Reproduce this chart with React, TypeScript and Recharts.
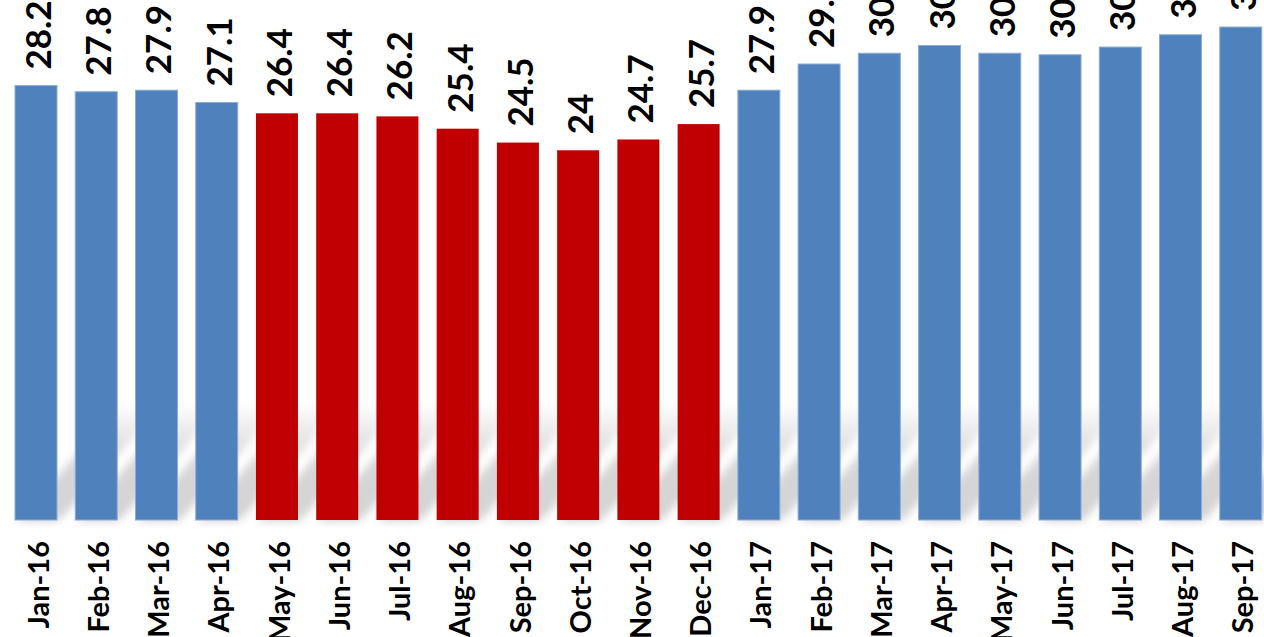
import { BarChart, Bar, XAxis, YAxis, Cell, LabelList } from "recharts"

// Monthly readings, Jan 2016 - Sep 2017
const months = [
  "Jan-16", "Feb-16", "Mar-16", "Apr-16", "May-16", "Jun-16", "Jul-16",
  "Aug-16", "Sep-16", "Oct-16", "Nov-16", "Dec-16", "Jan-17", "Feb-17",
  "Mar-17", "Apr-17", "May-17", "Jun-17", "Jul-17", "Aug-17", "Sep-17",
]
const values = [
  28.2, 27.8, 27.9, 27.1, 26.4, 26.4, 26.2, 25.4, 24.5, 24, 24.7, 25.7,
  27.9, 29.6, 30.3, 30.8, 30.3, 30.2, 30.7, 31.5, 32,
]
// months drawn in red
const dipMonths = ["May-16", "Jun-16", "Jul-16", "Aug-16", "Sep-16", "Oct-16", "Nov-16", "Dec-16"]

const BLUE = "#4F81BD"
const RED = "#C00000"
const FONT = "Lato, 'Open Sans', sans-serif"

const chartData = months.map((m, i) => ({ month: m, value: values[i] }))

// bar with a slanted, blurred floor shadow like the Excel original
const ShadowBar = (props: any) => {
  const { x, y, width, height, fill, index } = props
  const base = y + height
  const h = 118
  const s = 108
  const isBlue = fill === BLUE
  return (
    <g>
      {index === 0 && (
        <defs>
          <linearGradient id="shadowGrad" x1="0" y1="1" x2="0" y2="0">
            <stop offset="0%" stopColor="#000" stopOpacity={0.17} />
            <stop offset="50%" stopColor="#000" stopOpacity={0.16} />
            <stop offset="100%" stopColor="#000" stopOpacity={0} />
          </linearGradient>
          <filter id="shadowBlur" x="-50%" y="-50%" width="200%" height="200%">
            <feGaussianBlur stdDeviation="4" />
          </filter>
        </defs>
      )}
      <polygon
        points={`${x + 3},${base} ${x + width + 3},${base} ${x + width + s},${base - h} ${x + s},${base - h}`}
        fill="url(#shadowGrad)"
        filter="url(#shadowBlur)"
      />
      <rect x={x} y={base - 1} width={width} height={5} fill="#000" opacity={0.05} filter="url(#shadowBlur)" />
      <rect
        x={x}
        y={y}
        width={width}
        height={height}
        fill={fill}
        stroke={isBlue ? "#8EADD6" : "none"}
        strokeWidth={1}
      />
    </g>
  )
}

const ValueLabel = (props: any) => {
  const { x, y, width, value } = props
  const cx = x + width / 2 + 1
  const y0 = y - 16
  return (
    <text
      x={cx}
      y={y0}
      transform={`rotate(-90, ${cx}, ${y0})`}
      textAnchor="start"
      dominantBaseline="central"
      fill="#000"
      fontFamily={FONT}
      fontWeight={700}
      fontSize={35}
    >
      {String(value)}
    </text>
  )
}

const MonthTick = (props: any) => {
  const { x, y, payload } = props
  const y0 = y + 21
  const cx = x + 1
  return (
    <text
      x={cx}
      y={y0}
      transform={`rotate(-90, ${cx}, ${y0})`}
      textAnchor="end"
      dominantBaseline="central"
      fill="#000"
      fontFamily={FONT}
      fontWeight={700}
      fontSize={29}
    >
      {payload.value}
    </text>
  )
}

export default function App() {
  return (
    <div style={{ position: "fixed", left: 0, top: 0, width: 1264, height: 637, overflow: "hidden", background: "#fff" }}>
      <div style={{ position: "absolute", left: 0, top: -60 }}>
        <BarChart
          width={1280}
          height={697}
          data={chartData}
          margin={{ top: 10, right: 9, bottom: 0, left: 6 }}
        >
          <XAxis
            dataKey="month"
            interval={0}
            height={117}
            axisLine={false}
            tickLine={false}
            tickSize={0}
            tickMargin={0}
            tick={<MonthTick />}
          />
          <YAxis hide domain={[0, 37]} />
          <Bar dataKey="value" barSize={42} shape={<ShadowBar />} isAnimationActive={false}>
            {chartData.map((d) => (
              <Cell key={d.month} fill={dipMonths.includes(d.month) ? RED : BLUE} />
            ))}
            <LabelList dataKey="value" content={<ValueLabel />} />
          </Bar>
        </BarChart>
      </div>
    </div>
  )
}
